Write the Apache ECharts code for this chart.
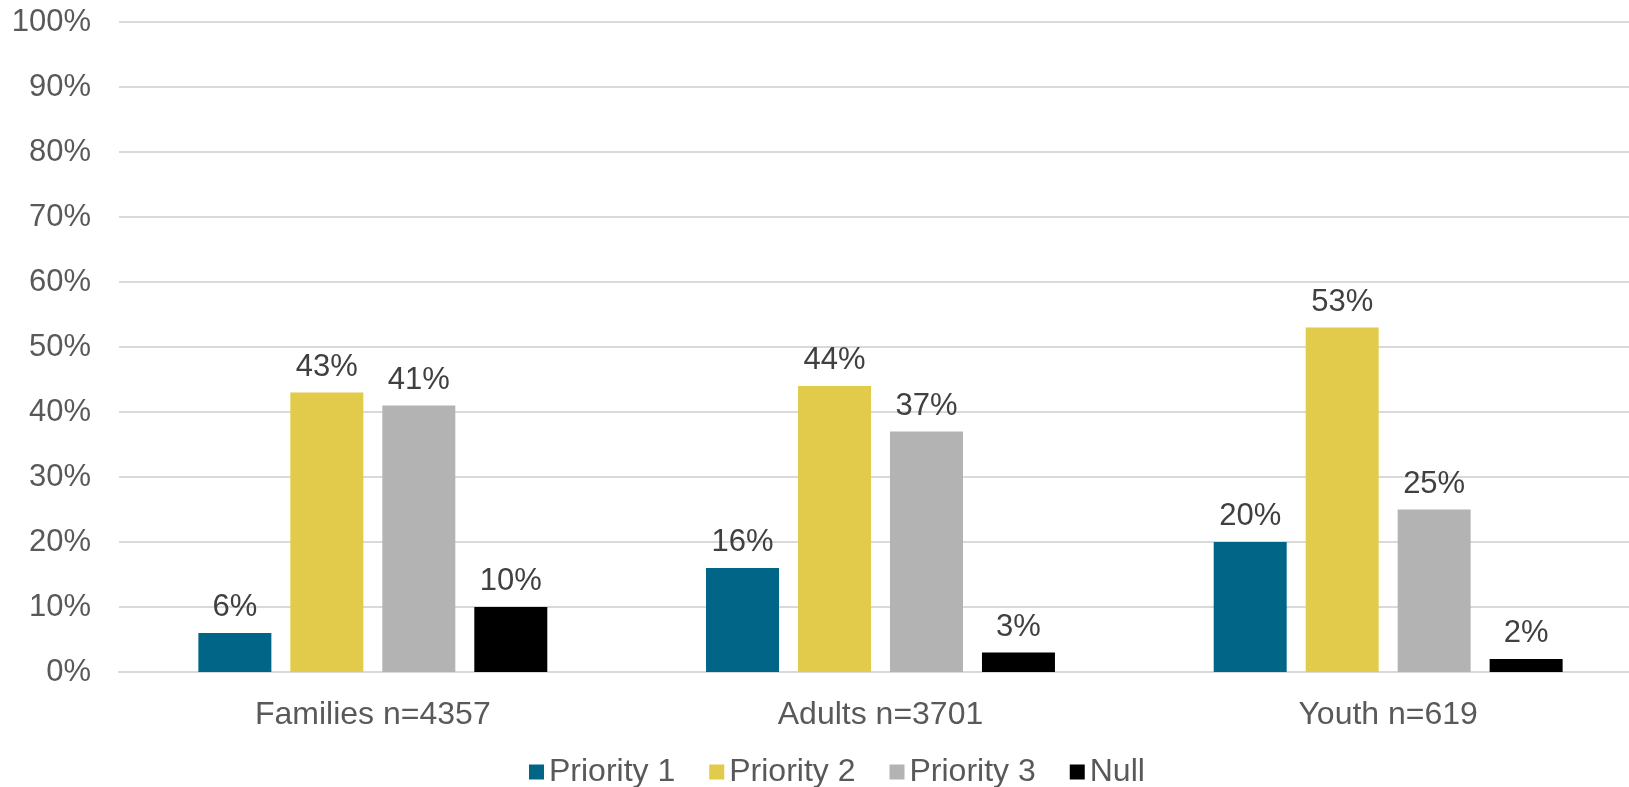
<!DOCTYPE html>
<html>
<head>
<meta charset="utf-8">
<script src="https://cdn.jsdelivr.net/npm/echarts@6/dist/echarts.min.js"></script>
<style>
  html, body { margin: 0; padding: 0; background: #fff; }
  #chart { width: 1629px; height: 787px; }
</style>
</head>
<body>
<div id="chart"></div>
<script>
const categories = ['Families n=4357', 'Adults n=3701', 'Youth n=619']
const priority1 = [6, 16, 20]
const priority2 = [43, 44, 53]
const priority3 = [41, 37, 25]
const nullShare = [10, 3, 2]

const font = 'Liberation Sans, Arial, sans-serif'

const makeSeries = (name, data, color) => ({
  name,
  type: 'bar',
  data,
  barWidth: 73,
  barGap: '26%',
  itemStyle: { color },
  label: {
    show: true,
    position: 'top',
    distance: 10,
    formatter: '{c}%',
    color: '#404040',
    fontSize: 31,
    fontFamily: font,
  },
})

const chart = echarts.init(document.getElementById('chart'))
chart.setOption({
  animation: false,
  // plot area runs a little past the right edge, as in the source image
  grid: { left: 119, width: 1523, top: 22, bottom: 115, containLabel: false, outerBoundsMode: 'none' },
  legend: {
    bottom: -6,
    left: 524,
    itemWidth: 15,
    itemHeight: 15,
    itemGap: 34,
    icon: 'rect',
    textStyle: { color: '#595959', fontSize: 32, fontFamily: font },
  },
  xAxis: {
    type: 'category',
    data: categories,
    axisTick: { show: false },
    axisLine: { lineStyle: { color: '#d9d9d9', width: 2 } },
    axisLabel: { color: '#595959', fontSize: 32, fontFamily: font, margin: 27 },
  },
  yAxis: {
    type: 'value',
    min: 0,
    max: 100,
    interval: 10,
    axisLabel: { formatter: '{value}%', color: '#595959', fontSize: 31, fontFamily: font, margin: 28 },
    splitLine: { lineStyle: { color: '#d9d9d9', width: 2 } },
  },
  series: [
    makeSeries('Priority 1', priority1, '#006587'),
    makeSeries('Priority 2', priority2, '#E2CA4B'),
    makeSeries('Priority 3', priority3, '#B3B3B3'),
    makeSeries('Null', nullShare, '#000000'),
  ],
})
</script>
</body>
</html>
